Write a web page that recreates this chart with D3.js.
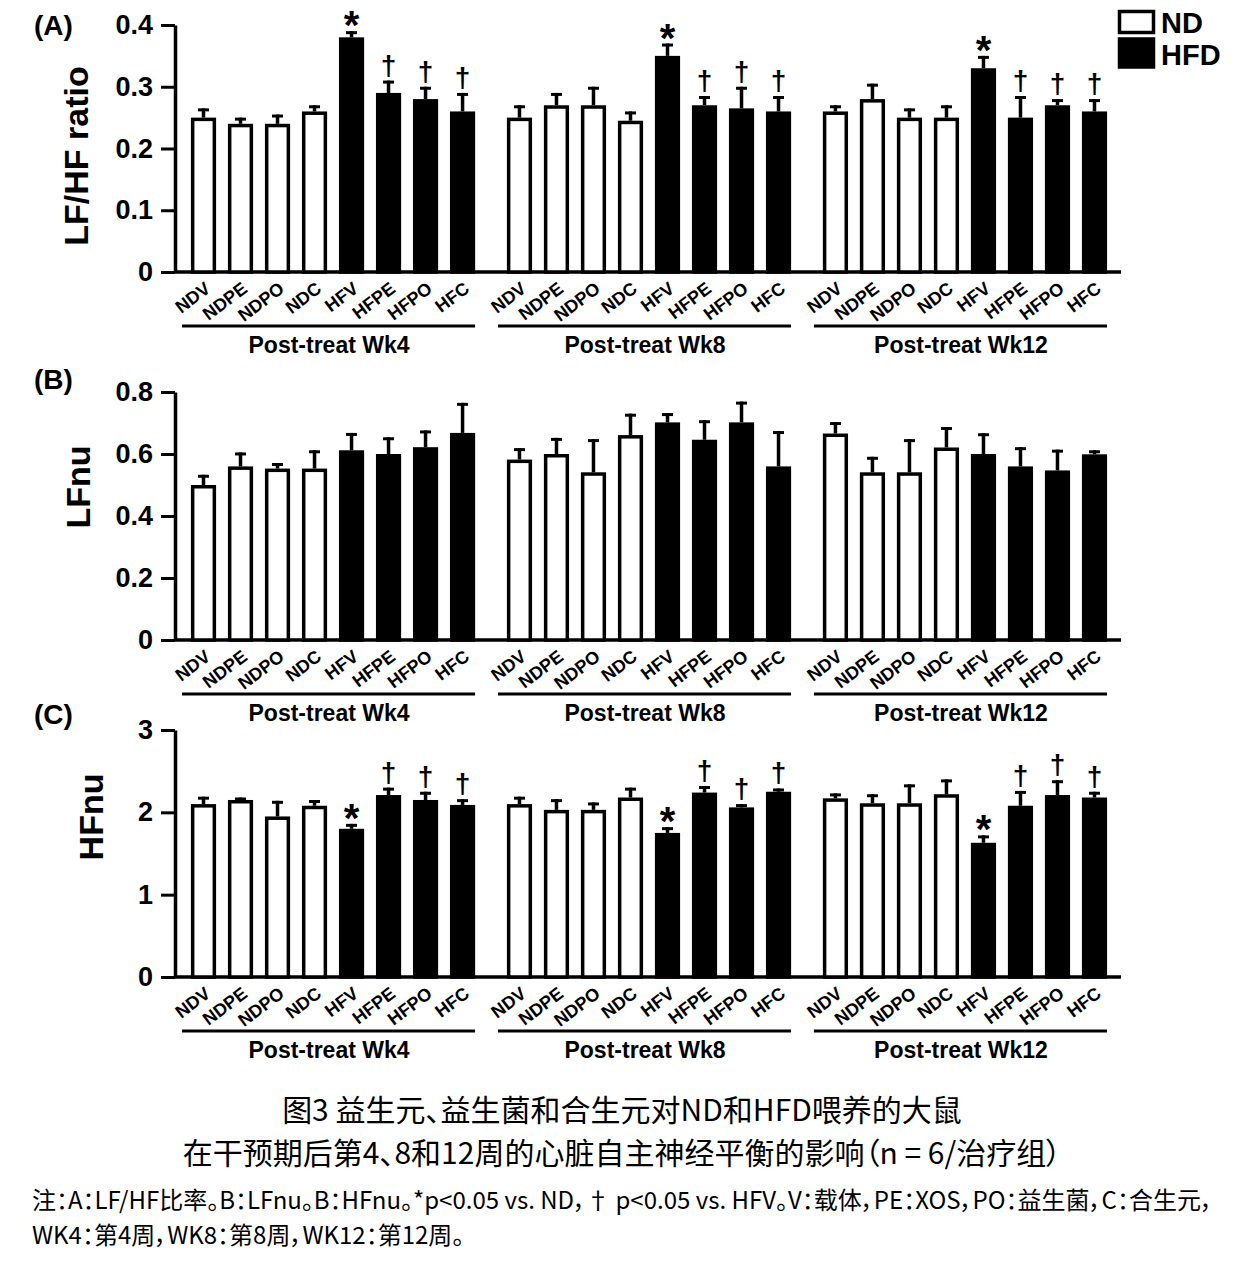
<!DOCTYPE html>
<html>
<head>
<meta charset="utf-8">
<script src="https://cdn.jsdelivr.net/npm/d3@7"></script>
<style>
  body { margin: 0; background: #fff; }
  svg text { font-family: "Liberation Sans", Arial, Helvetica, sans-serif; }
  .cap { font-family: "Noto Sans CJK SC", "Noto Sans", sans-serif !important; font-feature-settings: "palt"; }
</style>
</head>
<body>
<div id="chart"></div>
<script>
// groups and bars
const weeks = ["Post-treat Wk4", "Post-treat Wk8", "Post-treat Wk12"];
const categories = ["NDV", "NDPE", "NDPO", "NDC", "HFV", "HFPE", "HFPO", "HFC"];
const diets = ["ND", "ND", "ND", "ND", "HFD", "HFD", "HFD", "HFD"];

// (A) LF/HF ratio, mean and top of error bar per week
const lfhfMean = [
  [0.25, 0.24, 0.24, 0.26, 0.38, 0.29, 0.28, 0.26],
  [0.25, 0.27, 0.27, 0.245, 0.35, 0.27, 0.265, 0.26],
  [0.26, 0.28, 0.25, 0.25, 0.33, 0.25, 0.27, 0.26]
];
const lfhfTop = [
  [0.265, 0.25, 0.255, 0.27, 0.39, 0.31, 0.30, 0.29],
  [0.27, 0.29, 0.30, 0.26, 0.37, 0.285, 0.30, 0.285],
  [0.27, 0.305, 0.265, 0.27, 0.35, 0.285, 0.28, 0.28]
];
const lfhfMarks = ["", "", "", "", "*", "†", "†", "†"];

// (B) LFnu
const lfnuMean = [
  [0.50, 0.56, 0.553, 0.553, 0.612, 0.60, 0.622, 0.668],
  [0.582, 0.60, 0.541, 0.661, 0.702, 0.646, 0.702, 0.56],
  [0.666, 0.541, 0.541, 0.621, 0.60, 0.56, 0.547, 0.599]
];
const lfnuTop = [
  [0.533, 0.605, 0.571, 0.612, 0.668, 0.654, 0.676, 0.765],
  [0.619, 0.652, 0.648, 0.73, 0.732, 0.709, 0.769, 0.674],
  [0.703, 0.591, 0.648, 0.687, 0.667, 0.622, 0.614, 0.612]
];
const lfnuMarks = ["", "", "", "", "", "", "", ""];

// (C) HFnu
const hfnuMean = [
  [2.10, 2.15, 1.95, 2.08, 1.80, 2.21, 2.15, 2.09],
  [2.10, 2.03, 2.03, 2.18, 1.75, 2.24, 2.06, 2.25],
  [2.17, 2.11, 2.11, 2.22, 1.63, 2.08, 2.21, 2.18]
];
const hfnuTop = [
  [2.19, 2.18, 2.14, 2.15, 1.86, 2.30, 2.25, 2.16],
  [2.19, 2.16, 2.12, 2.30, 1.82, 2.32, 2.10, 2.29],
  [2.23, 2.22, 2.34, 2.40, 1.72, 2.26, 2.39, 2.25]
];
const hfnuMarks = ["", "", "", "", "*", "†", "†", "†"];

const legendItems = ["ND", "HFD"];
const titleLines = [
  "图3 益生元、益生菌和合生元对ND和HFD喂养的大鼠",
  "在干预期后第4、8和12周的心脏自主神经平衡的影响（n = 6/治疗组）"
];
const noteLines = [
  "注：A：LF/HF比率。B：LFnu。B：HFnu。*p<0.05 vs. ND，† p<0.05 vs. HFV。V：载体，PE：XOS，PO：益生菌，C：合生元，",
  "WK4：第4周，WK8：第8周，WK12：第12周。"
];

const W = 1254, H = 1277;
const svg = d3.select("#chart").append("svg")
  .attr("width", W).attr("height", H);

const axisX = 175;
const x0 = d3.scaleBand().domain(weeks).range([185, 1113]).paddingInner(0.063);
const x1 = d3.scaleBand().domain(categories).range([0, x0.bandwidth()]).paddingInner(0.32).paddingOuter(0.16);

const panels = [
  { label: "(A)", title: "LF/HF ratio", mean: lfhfMean, top: lfhfTop, marks: lfhfMarks,
    domain: [0, 0.4], ticks: [0, 0.1, 0.2, 0.3, 0.4], fmt: d => d === 0 ? "0" : d3.format(".1f")(d),
    range: [272, 25], titleX: 88, titleY: 156, labelY: 35 },
  { label: "(B)", title: "LFnu", mean: lfnuMean, top: lfnuTop, marks: lfnuMarks,
    domain: [0, 0.8], ticks: [0, 0.2, 0.4, 0.6, 0.8], fmt: d => d === 0 ? "0" : d3.format(".1f")(d),
    range: [640, 392], titleX: 90, titleY: 487, labelY: 389 },
  { label: "(C)", title: "HFnu", mean: hfnuMean, top: hfnuTop, marks: hfnuMarks,
    domain: [0, 3], ticks: [0, 1, 2, 3], fmt: d3.format("d"),
    range: [977, 730], titleX: 103, titleY: 817, labelY: 724 }
];

panels.forEach(p => {
  const g = svg.append("g");
  const y = d3.scaleLinear().domain(p.domain).range(p.range);
  const base = y(0);

  // panel letter
  g.append("text").attr("x", 34).attr("y", p.labelY)
    .style("font-size", "28px").style("font-weight", "bold").text(p.label);

  // y title
  g.append("text")
    .attr("transform", `translate(${p.titleX},${p.titleY}) rotate(-90)`)
    .attr("text-anchor", "middle")
    .style("font-size", "34px").style("font-weight", "bold").text(p.title);

  // y axis
  const ya = g.append("g").attr("transform", `translate(${axisX},0)`)
    .call(d3.axisLeft(y).tickValues(p.ticks).tickFormat(p.fmt).tickSize(14).tickSizeOuter(0).tickPadding(8));
  ya.select(".domain").attr("stroke-width", 3.5);
  ya.selectAll(".tick line").attr("stroke-width", 3);
  ya.selectAll(".tick text").style("font-size", "27px").style("font-weight", "bold").attr("fill", "#000");

  // baseline
  g.append("line").attr("x1", axisX).attr("x2", 1121)
    .attr("y1", base).attr("y2", base)
    .attr("stroke", "#000").attr("stroke-width", 3.5);

  weeks.forEach((wk, wi) => {
    const gx = x0(wk);
    const rows = categories.map((c, i) => ({
      c, diet: diets[i], mean: p.mean[wi][i], top: p.top[wi][i], mark: p.marks[i]
    }));
    const gg = g.append("g").attr("transform", `translate(${gx},0)`);

    // error bars
    gg.selectAll("line.err").data(rows).join("line")
      .attr("x1", d => x1(d.c) + x1.bandwidth() / 2)
      .attr("x2", d => x1(d.c) + x1.bandwidth() / 2)
      .attr("y1", d => y(d.mean)).attr("y2", d => y(d.top))
      .attr("stroke", "#000").attr("stroke-width", 3.5);
    gg.selectAll("line.cap").data(rows).join("line")
      .attr("x1", d => x1(d.c) + x1.bandwidth() / 2 - 5.5)
      .attr("x2", d => x1(d.c) + x1.bandwidth() / 2 + 5.5)
      .attr("y1", d => y(d.top) + 1.5).attr("y2", d => y(d.top) + 1.5)
      .attr("stroke", "#000").attr("stroke-width", 3);

    // bars
    gg.selectAll("rect").data(rows).join("rect")
      .attr("x", d => x1(d.c) + 1.75)
      .attr("y", d => y(d.mean) + 1.75)
      .attr("width", x1.bandwidth() - 3.5)
      .attr("height", d => base - y(d.mean) - 1.75)
      .attr("fill", d => d.diet === "ND" ? "#fff" : "#000")
      .attr("stroke", "#000").attr("stroke-width", 3.5);

    // significance marks
    gg.selectAll("text.mark").data(rows.filter(d => d.mark)).join("text")
      .attr("class", "mark")
      .attr("x", d => x1(d.c) + x1.bandwidth() / 2)
      .attr("y", d => d.mark === "*" ? y(d.top) + 8 : y(d.top) - 6)
      .attr("text-anchor", "middle")
      .style("font-size", d => d.mark === "*" ? "40px" : "28px")
      .style("font-weight", "bold")
      .text(d => d.mark);

    // category labels
    gg.selectAll("text.cat").data(rows).join("text")
      .attr("class", "cat")
      .attr("transform", d => `translate(${x1(d.c) + x1.bandwidth() / 2 + 8},${base + 19}) rotate(-37)`)
      .attr("text-anchor", "end")
      .style("font-size", "18px").style("font-weight", "bold")
      .text(d => d.c);

    // group underline and label
    g.append("line")
      .attr("x1", gx - 3).attr("x2", gx + x0.bandwidth() - 6)
      .attr("y1", base + 54).attr("y2", base + 54)
      .attr("stroke", "#000").attr("stroke-width", 3);
    g.append("text")
      .attr("x", gx + x0.bandwidth() / 2 - 4).attr("y", base + 81)
      .attr("text-anchor", "middle")
      .style("font-size", "23px").style("font-weight", "bold")
      .text(wk);
  });
});

// legend
const lg = svg.append("g").attr("transform", "translate(1118,10)");
lg.selectAll("rect").data(legendItems).join("rect")
  .attr("x", 1.5).attr("y", (d, i) => i === 0 ? 1.5 : 29)
  .attr("width", 34).attr("height", (d, i) => i === 0 ? 21 : 28)
  .attr("fill", (d, i) => i === 0 ? "#fff" : "#000")
  .attr("stroke", "#000").attr("stroke-width", 3.5);
lg.selectAll("text").data(legendItems).join("text")
  .attr("x", 43).attr("y", (d, i) => i === 0 ? 23 : 55)
  .style("font-size", "29px").style("font-weight", "bold")
  .text(d => d);

// caption
svg.selectAll("text.title").data(titleLines).join("text")
  .attr("class", "title cap")
  .attr("x", 622).attr("y", (d, i) => 1121 + i * 43)
  .attr("text-anchor", "middle")
  .style("font-size", "30px")
  .text(d => d);
svg.selectAll("text.note").data(noteLines).join("text")
  .attr("class", "note cap")
  .attr("x", 32).attr("y", (d, i) => 1209 + i * 35)
  .style("font-size", "24px")
  .text(d => d);
</script>
</body>
</html>
